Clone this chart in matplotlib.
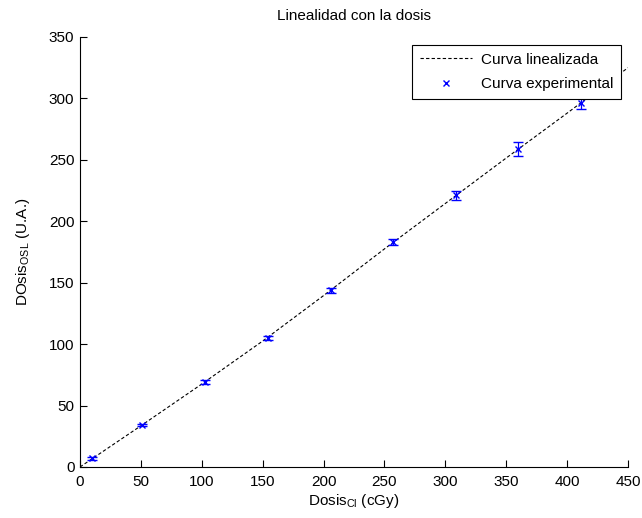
import matplotlib
matplotlib.use('Agg')
import matplotlib.pyplot as plt
from matplotlib.lines import Line2D

plt.rcParams['font.family'] = ['Liberation Sans', 'DejaVu Sans']
plt.rcParams['mathtext.fontset'] = 'custom'
plt.rcParams['mathtext.rm'] = 'Liberation Sans'
plt.rcParams['mathtext.it'] = 'Liberation Sans'

# dosis de referencia (cGy) y lectura OSL con su incertidumbre
dosis_cl = [10, 51, 103, 154, 206, 257, 309, 360, 411]
dosis_osl = [7, 34, 69, 105, 144, 183, 221, 259, 296]
err_osl = [1, 1, 1.5, 1.5, 2, 2.5, 3.5, 5.5, 5]

# curva linealizada
fit_x = [0, 50, 100, 150, 200, 250, 300, 350, 400, 450]
fit_y = [0, 33.5, 67.5, 102.5, 139.5, 177.5, 214.5, 251.5, 288, 325]

fig = plt.figure(figsize=(6.42, 5.18), dpi=100)
ax = fig.add_axes([0.1246, 0.0985, 0.8536, 0.8301])

ax.plot(fit_x, fit_y, color='black', linestyle=(0, (3, 2)), linewidth=0.8)
ax.errorbar(dosis_cl, dosis_osl, yerr=err_osl, fmt='x', color='blue',
            markersize=5, markeredgewidth=1, elinewidth=0.9, capsize=3.6,
            capthick=0.9)

ax.set_xlim(0, 450)
ax.set_ylim(0, 350)
ax.set_xticks(range(0, 451, 50))
ax.set_yticks(range(0, 351, 50))
ax.spines['top'].set_visible(False)
ax.spines['right'].set_visible(False)
ax.tick_params(direction='in', length=5, labelsize=11, width=0.8)
ax.tick_params(axis='x', pad=6)
ax.tick_params(axis='y', pad=4)

ax.set_title('Linealidad con la dosis', fontsize=11, pad=12)
ax.set_xlabel(r'Dosis$_{\mathrm{Cl}}$ (cGy)', fontsize=11, labelpad=2)
ax.set_ylabel(r'DOsis$_{\mathrm{OSL}}$ (U.A.)', fontsize=11, labelpad=12)

handles = [
    Line2D([], [], color='black', linestyle=(0, (3, 2)), linewidth=0.8),
    Line2D([], [], color='blue', linestyle='none', marker='x',
           markersize=5, markeredgewidth=1),
]
leg = ax.legend(handles, ['Curva linealizada', 'Curva experimental'],
                loc='upper right', bbox_to_anchor=(0.987, 0.981),
                borderaxespad=0, fontsize=11,
                fancybox=False, edgecolor='black', framealpha=1,
                handlelength=3.4, borderpad=0.5, labelspacing=0.7,
                handletextpad=0.6)
leg.get_frame().set_linewidth(0.8)

fig.savefig('out.png', dpi=100)
